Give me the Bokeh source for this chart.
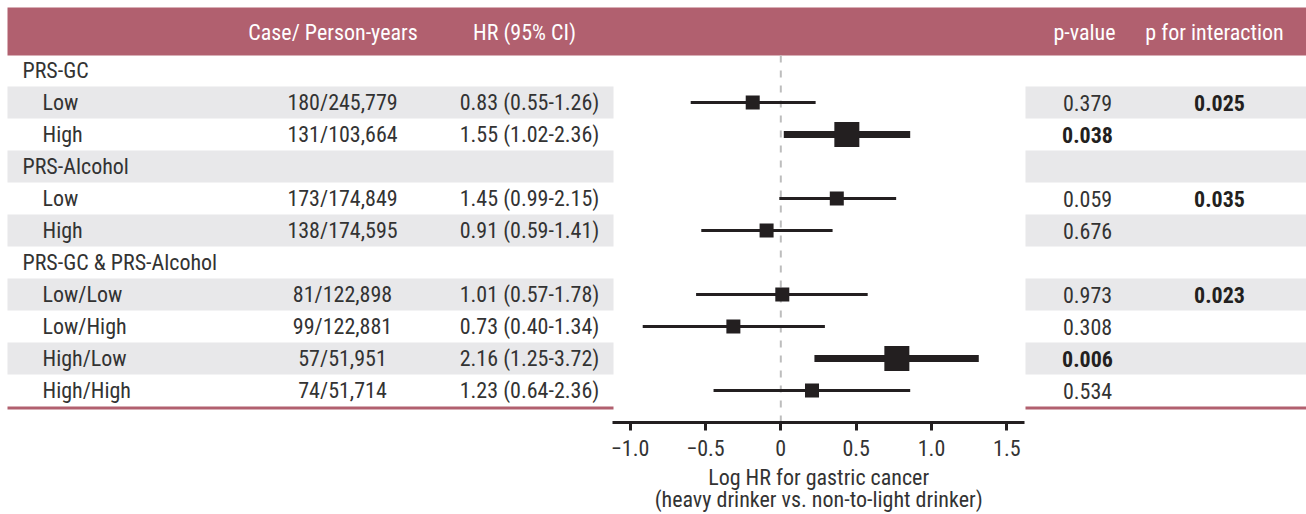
import numpy as np
from bokeh.plotting import figure
from bokeh.layouts import column
from bokeh.models import Range1d, LinearAxis, FixedTicker, ColumnDataSource
from bokeh.core.properties import value
from bokeh.embed import file_html
from bokeh.resources import INLINE

# ---------------- data ----------------
row_labels = ["PRS-GC", "Low", "High", "PRS-Alcohol", "Low", "High",
              "PRS-GC & PRS-Alcohol", "Low/Low", "Low/High", "High/Low", "High/High"]
is_group = [True, False, False, True, False, False, True, False, False, False, False]
cases = ["", "180/245,779", "131/103,664", "", "173/174,849", "138/174,595",
         "", "81/122,898", "99/122,881", "57/51,951", "74/51,714"]
hr = [None, 0.83, 1.55, None, 1.45, 0.91, None, 1.01, 0.73, 2.16, 1.23]
hr_lo = [None, 0.55, 1.02, None, 0.99, 0.59, None, 0.57, 0.40, 1.25, 0.64]
hr_hi = [None, 1.26, 2.36, None, 2.15, 1.41, None, 1.78, 1.34, 3.72, 2.36]
p_value = ["", "0.379", "0.038", "", "0.059", "0.676", "", "0.973", "0.308", "0.006", "0.534"]
p_interaction = ["", "0.025", "", "", "0.035", "", "", "0.023", "", "", ""]
header_labels = ["Case/ Person-years", "HR (95% CI)", "p-value", "p for interaction"]
axis_ticks = [-1.0, -0.5, 0.0, 0.5, 1.0, 1.5]
axis_tick_labels = ["\u22121.0", "\u22120.5", "0", "0.5", "1.0", "1.5"]
axis_title = ["Log HR for gastric cancer", "(heavy drinker vs. non-to-light drinker)"]

# ---------------- layout (page pixels) ----------------
W, H = 1306, 514
MAIN_H = 464
TITLE_H = H - MAIN_H
LEFT, TOP = 7, 7
FRAME_BOTTOM = 422
ZERO_PX = 780.3
PX_PER_UNIT = 150.7
ROW0_PX = 70.0
ROW_PX = 32.0

def dx(px):
    return (px - ZERO_PX) / PX_PER_UNIT

def dy(py):
    return (py - ROW0_PX) / ROW_PX

FONT = "Roboto Condensed"
FS = "22px"
HEADER_COLOR = "#B1606F"
BAND_COLOR = "#E8E8EA"
TEXT_COLOR = "#333333"
DARK = "#231F20"

x0, x1 = dx(LEFT), dx(W)
y_top, y_bot = dy(TOP), dy(FRAME_BOTTOM)
xr = Range1d(x0, x1)

p = figure(width=W, height=MAIN_H, output_backend="svg", toolbar_location=None,
           x_range=xr, y_range=Range1d(y_bot, y_top),
           min_border_left=LEFT, min_border_right=0, min_border_top=TOP,
           min_border_bottom=MAIN_H - FRAME_BOTTOM, x_axis_location=None, y_axis_location=None)
p.grid.visible = False
p.outline_line_color = None
p.background_fill_color = "white"
p.border_fill_color = "white"

n = len(row_labels)
rows = np.arange(n)

# header band
p.quad(left=[x0 - 1], right=[x1 + 1], top=[y_top - 1], bottom=[dy(55)],
       fill_color=HEADER_COLOR, line_color=None)

# zebra bands
band_rows = [i for i in rows if i % 2 == 1]
left_end = dx(613)
right_start = dx(1025)
p.quad(left=[x0 - 1] * len(band_rows), right=[left_end] * len(band_rows),
       top=[i - 0.5 for i in band_rows], bottom=[i + 0.5 for i in band_rows],
       fill_color=BAND_COLOR, line_color=None)
p.quad(left=[right_start] * len(band_rows), right=[x1 + 1] * len(band_rows),
       top=[i - 0.5 for i in band_rows], bottom=[i + 0.5 for i in band_rows],
       fill_color=BAND_COLOR, line_color=None)

# bottom pink rules
rule_y = dy(407.5)
p.segment(x0=[x0 - 1, right_start], x1=[left_end, x1 + 1], y0=[rule_y, rule_y],
          y1=[rule_y, rule_y], line_color=HEADER_COLOR, line_width=3)

# reference dashed line at 0
p.segment(x0=[0], x1=[0], y0=[dy(55)], y1=[y_bot], line_color="#BDBDBD",
          line_width=2, line_dash="7 8")

# forest marks
data_rows = [i for i in rows if hr[i] is not None]
sig = [float(p_value[i]) < 0.05 for i in data_rows]
src = ColumnDataSource(dict(
    y=data_rows,
    est=[np.log(hr[i]) for i in data_rows],
    lo=[np.log(hr_lo[i]) for i in data_rows],
    hi=[np.log(hr_hi[i]) for i in data_rows],
    lw=[7 if s else 3 for s in sig],
    sz=[25 if s else 14 for s in sig],
))
p.segment(x0="lo", x1="hi", y0="y", y1="y", line_width="lw", line_color=DARK, source=src)
p.scatter(x="est", y="y", size="sz", marker="square", fill_color=DARK,
          line_color=None, source=src)

def txt(fig, xs, ys, texts, color=TEXT_COLOR, align="center", bold=False):
    fig.text(x=xs, y=ys, text=texts,
             text_font=value(FONT), text_font_size=FS, text_color=color,
             text_font_style="bold" if bold else "normal",
             text_align=align, text_baseline="middle")

R = list(rows)
# header texts
txt(p, [dx(332.5), dx(524), dx(1084), dx(1214)], [dy(32)] * 4, header_labels, color="white")
# row labels
txt(p, [dx(22) if g else dx(42) for g in is_group], R, row_labels, align="left")
# cases
txt(p, [dx(342)] * n, R, cases)
# HR text
hr_text = ["" if hr[i] is None else f"{hr[i]:.2f} ({hr_lo[i]:.2f}-{hr_hi[i]:.2f})" for i in rows]
txt(p, [dx(529)] * n, R, hr_text)
# p-values
pv_norm = [v if (v and float(v) >= 0.05) else "" for v in p_value]
pv_bold = [v if (v and float(v) < 0.05) else "" for v in p_value]
txt(p, [dx(1087)] * n, R, pv_norm)
txt(p, [dx(1087)] * n, R, pv_bold, color=DARK, bold=True)
txt(p, [dx(1219)] * n, R, p_interaction, color=DARK, bold=True)

# axis
ax = LinearAxis(bounds=(dx(612), dx(1024.3)), ticker=FixedTicker(ticks=axis_ticks),
                major_label_overrides={t: l for t, l in zip(axis_ticks, axis_tick_labels)},
                axis_line_width=3, axis_line_color=DARK,
                major_tick_line_width=3, major_tick_line_color=DARK,
                major_tick_out=8, major_tick_in=0, minor_tick_out=0, minor_tick_in=0,
                major_label_text_font=FONT, major_label_text_font_size=FS,
                major_label_text_color=TEXT_COLOR, major_label_standoff=9)
p.add_layout(ax, "below")

# axis title strip (same x mapping), centred under the axis
t = figure(width=W, height=TITLE_H, output_backend="svg", toolbar_location=None,
           x_range=xr, y_range=Range1d(TITLE_H, 0),
           min_border_left=LEFT, min_border_right=0, min_border_top=0, min_border_bottom=0,
           x_axis_location=None, y_axis_location=None)
t.grid.visible = False
t.outline_line_color = None
t.border_fill_color = "white"
axis_center = dx((612 + 1024.3) / 2)
txt(t, [axis_center] * 2, [477 - MAIN_H, 499 - MAIN_H], axis_title)

layout = column(p, t, spacing=0)
open("out.html", "w").write(file_html(layout, INLINE))
